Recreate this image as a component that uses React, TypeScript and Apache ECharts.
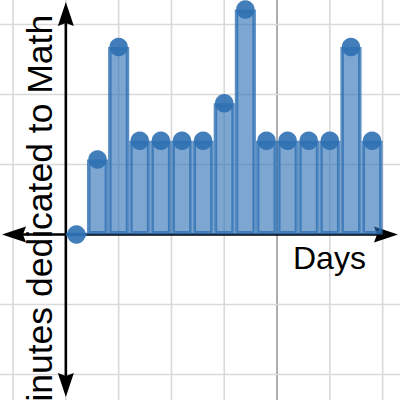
import React, { useEffect, useRef } from "react";
import * as echarts from "echarts";

// ---- data ----
const DAYS = [0, 1, 2, 3, 4, 5, 6, 7, 8, 9, 10, 11, 12, 13, 14];
const MINUTES = [0, 20, 50, 25, 25, 25, 25, 35, 60, 25, 25, 25, 25, 50, 25];
const GRID_X_DAYS = [-3, -0.5, 2, 4.5, 7, 12, 14.5];
const GRID_X_DARK = [9.5];
const GRID_Y_MIN = [-37.333, -18.667, 18.667, 37.333, 56];
const AXIS_X_DAY = -0.5;
const AXIS_Y_MIN = 0;
const X_LABEL = "Days";
const Y_LABEL = "Minutes dedicated to Math";

// ---- layout (pixel mapping of the plane) ----
const W = 400;
const H = 400;
const PX_PER_DAY = 21.12;
const ORIGIN_X = 76.4;
const PX_PER_MIN = 3.75;
const ORIGIN_Y = 234.5;
const X_MIN = -ORIGIN_X / PX_PER_DAY;
const X_MAX = (W - ORIGIN_X) / PX_PER_DAY;
const Y_MIN = -(H - ORIGIN_Y) / PX_PER_MIN;
const Y_MAX = ORIGIN_Y / PX_PER_MIN;

const BLUE = "#2d70b3";

export default function App() {
  const ref = useRef<HTMLDivElement>(null);
  useEffect(() => {
    if (!ref.current) return;
    const chart = echarts.init(ref.current, undefined, { renderer: "svg" });

    const gridRender = (_p: any, api: any) => {
      const w = api.getWidth();
      const h = api.getHeight();
      const children: any[] = [];
      GRID_X_DAYS.forEach((gx) => {
        const x = api.coord([gx, 0])[0];
        children.push({
          type: "line",
          shape: { x1: x, y1: 0, x2: x, y2: h },
          style: { stroke: "#d9d9d9", lineWidth: 1.6 },
        });
      });
      GRID_X_DARK.forEach((gx) => {
        const x = api.coord([gx, 0])[0];
        children.push({
          type: "line",
          shape: { x1: x, y1: 0, x2: x, y2: h },
          style: { stroke: "#9a9a9a", lineWidth: 1.6 },
        });
      });
      GRID_Y_MIN.forEach((gy) => {
        const y = api.coord([0, gy])[1];
        children.push({
          type: "line",
          shape: { x1: 0, y1: y, x2: w, y2: y },
          style: { stroke: "#d9d9d9", lineWidth: 1.6 },
        });
      });
      return { type: "group", children };
    };

    const axesRender = (_p: any, api: any) => {
      const w = api.getWidth();
      const h = api.getHeight();
      const [ax, ay] = api.coord([AXIS_X_DAY, AXIS_Y_MIN]);
      const L = 24;
      const HW = 8;
      const N = 3;
      const tipT = 2;
      const tipB = h - 3;
      const tipL = 2;
      const tipR = w - 2;
      const st = { stroke: "#000", lineWidth: 2.6 };
      const fill = { fill: "#000" };
      return {
        type: "group",
        children: [
          { type: "line", shape: { x1: ax, y1: tipT + 10, x2: ax, y2: tipB - 10 }, style: st },
          { type: "line", shape: { x1: tipL + 10, y1: ay, x2: tipR - 10, y2: ay }, style: st },
          {
            type: "polygon",
            shape: { points: [[ax, tipT], [ax - HW, tipT + L], [ax, tipT + L - N], [ax + HW, tipT + L]] },
            style: fill,
          },
          {
            type: "polygon",
            shape: { points: [[ax, tipB], [ax - HW, tipB - L], [ax, tipB - L + N], [ax + HW, tipB - L]] },
            style: fill,
          },
          {
            type: "polygon",
            shape: { points: [[tipL, ay], [tipL + L, ay - HW], [tipL + L - N, ay], [tipL + L, ay + HW]] },
            style: fill,
          },
          {
            type: "polygon",
            shape: { points: [[tipR, ay], [tipR - L, ay - HW], [tipR - L + N, ay], [tipR - L, ay + HW]] },
            style: fill,
          },
        ],
      };
    };

    const pts = DAYS.map((d, i) => [d, MINUTES[i]]);

    chart.setOption({
      animation: false,
      backgroundColor: "#fff",
      grid: { left: 0, right: 0, top: 0, bottom: 0, containLabel: false },
      xAxis: {
        type: "value",
        min: X_MIN,
        max: X_MAX,
        show: false,
        splitLine: { show: false },
      },
      yAxis: {
        type: "value",
        min: Y_MIN,
        max: Y_MAX,
        show: false,
        splitLine: { show: false },
      },
      series: [
        {
          type: "custom",
          z: 1,
          silent: true,
          data: [[0, 0]],
          renderItem: gridRender,
        },
        {
          type: "custom",
          z: 2,
          silent: true,
          data: [[0, 0]],
          renderItem: axesRender,
        },
        {
          type: "bar",
          z: 3,
          data: pts,
          barWidth: PX_PER_DAY,
          itemStyle: {
            color: "rgba(45,112,179,0.62)",
            borderColor: "rgba(45,112,179,0.78)",
            borderWidth: 3.5,
          },
        },
        {
          type: "scatter",
          z: 4,
          data: pts,
          symbol: "circle",
          symbolSize: 18.5,
          itemStyle: { color: BLUE, opacity: 0.9 },
        },
      ],
      graphic: [
        {
          type: "text",
          z: 10,
          left: 293,
          top: 242,
          style: {
            text: X_LABEL,
            fontSize: 32,
            fontFamily: "Liberation Sans, Arial, sans-serif",
            fill: "#000",
          },
        },
        {
          type: "text",
          z: 10,
          x: 40,
          y: 223,
          rotation: Math.PI / 2,
          style: {
            text: Y_LABEL,
            fontSize: 35.5,
            fontFamily: "Liberation Sans, Arial, sans-serif",
            fill: "#000",
            align: "center",
            verticalAlign: "middle",
          },
        },
      ],
    });
    return () => chart.dispose();
  }, []);
  return (
    <div
      ref={ref}
      style={{ position: "fixed", left: 0, top: 0, width: W, height: H, background: "#fff" }}
    />
  );
}
